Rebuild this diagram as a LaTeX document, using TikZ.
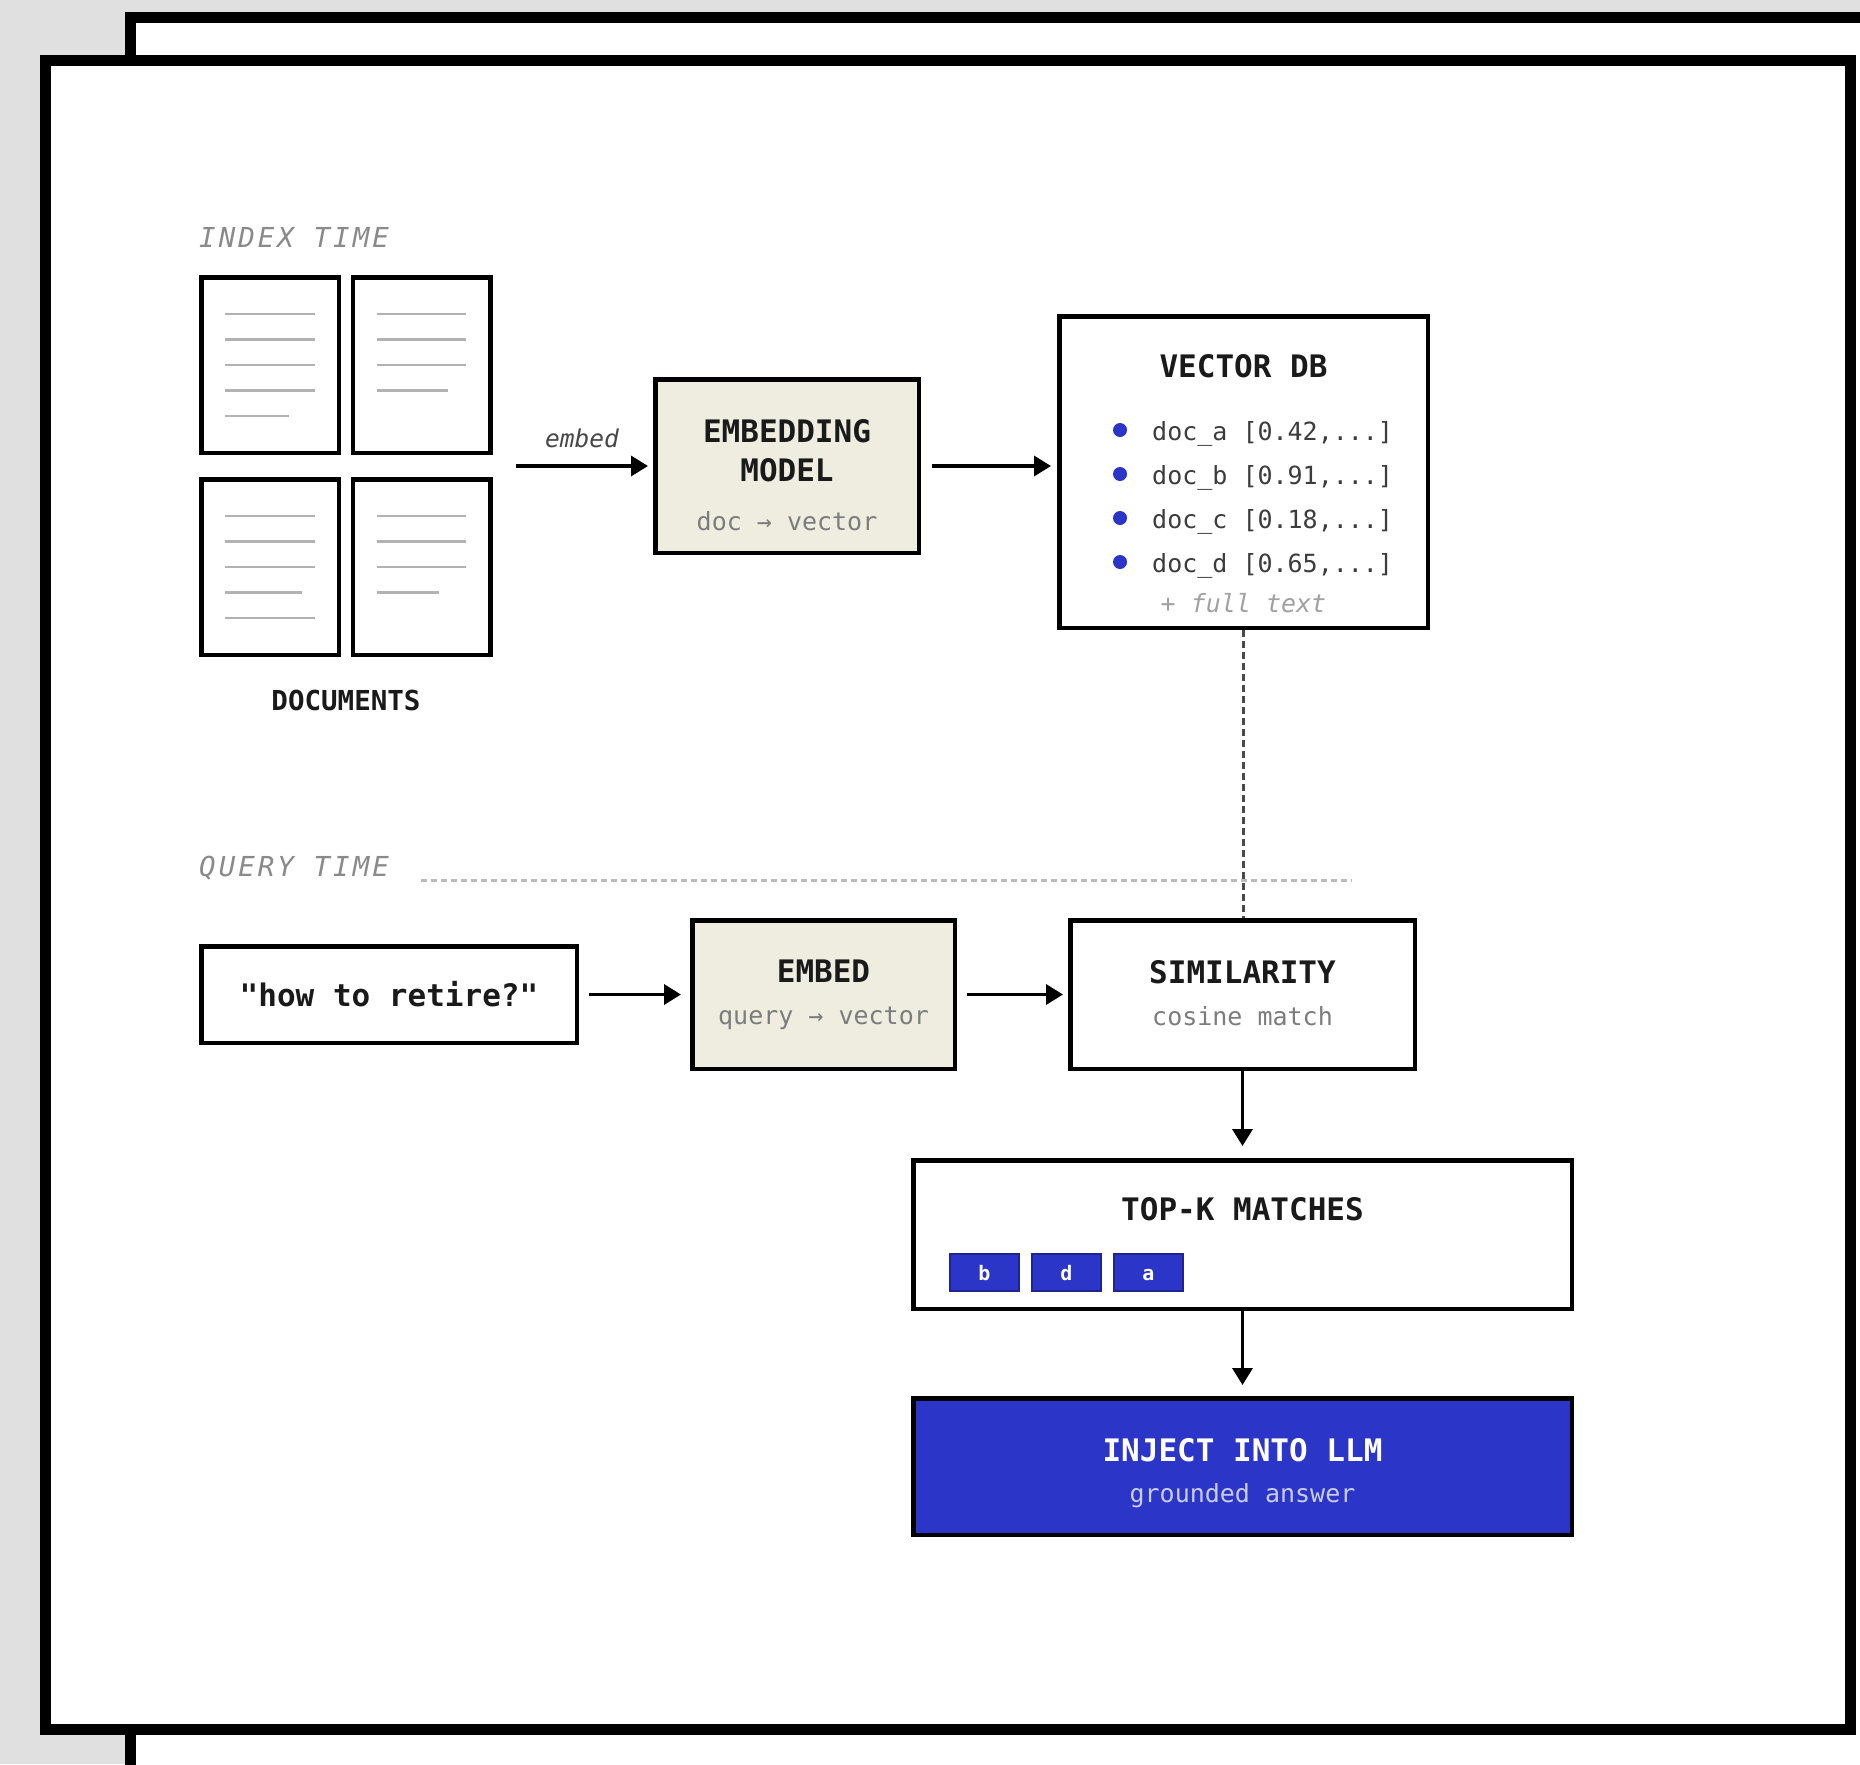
\documentclass[tikz,border=0pt]{standalone}
\usepackage{fontspec}
\setmainfont{DejaVu Sans Mono}
\newfontfamily\mono{DejaVu Sans Mono}
\usetikzlibrary{arrows.meta,calc}

\definecolor{bggray}{HTML}{E0E0E0}
\definecolor{beige}{HTML}{EFEDE0}
\definecolor{accent}{HTML}{2B35C8}
\definecolor{ink}{HTML}{1A1A1A}
\definecolor{subgray}{HTML}{7C7C7C}
\definecolor{taggray}{HTML}{8A8A8A}
\definecolor{rulegray}{HTML}{B2B2B2}
\definecolor{sepgray}{HTML}{BBBBBB}
\definecolor{linkgray}{HTML}{4A4A4A}
\definecolor{paleblue}{HTML}{C9CDF3}

\newcommand\fsz[1]{\fontsize{#1}{#1}\selectfont}

\tikzset{
  boxline/.style={draw=black, line width=4.5pt, inner sep=0pt},
  docbox/.style={boxline, fill=white, minimum width=137.5pt, minimum height=175.5pt},
  procbox/.style={boxline, fill=beige},
  plainbox/.style={boxline, fill=white},
  llmbox/.style={boxline, fill=accent},
  docrule/.style={draw=rulegray, line width=2.5pt},
  ttl/.style={font=\mono\bfseries\fsz{31}, text=ink, anchor=base, inner sep=0pt},
  subl/.style={font=\mono\fsz{25}, text=subgray, anchor=base, inner sep=0pt},
  phase/.style={font=\mono\itshape\fsz{27.5}\addfontfeature{LetterSpace=11}, text=taggray, anchor=base west, inner sep=0pt},
  rowtext/.style={font=\mono\fsz{25}, text=ink!85, anchor=base west, inner sep=0pt},
  dbdot/.style={circle, fill=accent, minimum size=14pt, inner sep=0pt},
  chip/.style={draw=accent!70!black, line width=1.5pt, fill=accent, minimum width=69pt, minimum height=37pt,
    inner sep=0pt, text=white, font=\mono\bfseries\fsz{20}, text height=15pt, text depth=0pt},
  flow/.style={draw=black, line width=3.5pt, -{Triangle[length=17pt,width=20pt]}},
  dbprobe/.style={draw=linkgray, line width=2.5pt, dash pattern=on 7pt off 4pt},
  septrack/.style={draw=sepgray, line width=3pt, dash pattern=on 6pt off 4pt},
}

\begin{document}
\begin{tikzpicture}[x=1pt,y=-1pt]
\useasboundingbox (0,0) rectangle (1860,1764);
\fill[bggray] (0,0) rectangle (1860,1764);

% stacked sheets behind the main panel
\begin{scope}
  \clip (0,0) rectangle (1860,1764);
  \draw[line width=11pt, fill=white] (130.5,17.5) rectangle (1920,1840);
\end{scope}
\draw[line width=11pt, fill=white] (45.5,60.5) rectangle (1850.5,1729.5);

% ---------------- index time ----------------
\node[phase] (itime) at (199,247) {INDEX TIME};

\node[docbox] (d1) at (270,365) {};
\node[docbox] (d2) at (421.5,365) {};
\node[docbox] (d3) at (270,567) {};
\node[docbox] (d4) at (421.5,567) {};
\foreach \d/\lens in {d1/{45,45,45,45,19}, d2/{44.5,44.5,44.5,26.5}, d3/{45,45,45,32,45}, d4/{44.5,44.5,44.5,17.5}} {
  \foreach \e [count=\i] in \lens {
    \draw[docrule] ($(\d)+(-45,{-51+(\i-1)*25.5})$) -- ($(\d)+(\e,{-51+(\i-1)*25.5})$);
  }
}
\node[font=\mono\bfseries\fsz{27.5}, text=ink, anchor=base, inner sep=0pt] (doclbl) at (346,710) {DOCUMENTS};

\node[procbox, minimum width=263.5pt, minimum height=173.5pt] (emb) at (787,466) {};
\node[ttl] (embt1) at (787,442) {EMBEDDING};
\node[ttl] (embt2) at (787,481) {MODEL};
\node[subl] (embs) at (787,530) {doc → vector};

\coordinate (docsout) at (516,466);
\draw[flow, shorten >=5pt] (docsout) -- (emb.west);
\node[font=\mono\itshape\fsz{24.5}, text=ink!80, anchor=base, inner sep=0pt] (embedlbl) at (582,447) {embed};

\node[plainbox, minimum width=368.5pt, minimum height=311.5pt] (vdb) at (1243.5,472) {};
\node[ttl] (vdbt) at (1243.5,377) {VECTOR DB};
\node[dbdot] (dota) at (1120,430) {};
\node[dbdot] (dotb) at (1120,474) {};
\node[dbdot] (dotc) at (1120,518) {};
\node[dbdot] (dotd) at (1120,562) {};
\node[rowtext] (rowa) at (1152,440) {doc\_a [0.42,...]};
\node[rowtext] (rowb) at (1152,484) {doc\_b [0.91,...]};
\node[rowtext] (rowc) at (1152,528) {doc\_c [0.18,...]};
\node[rowtext] (rowd) at (1152,572) {doc\_d [0.65,...]};
\node[font=\mono\itshape\fsz{25}, text=taggray!80, anchor=base, inner sep=0pt] (fulltext) at (1243.5,612) {+ full text};

\draw[flow, shorten <=11pt, shorten >=6pt] (emb.east) -- (emb.east -| vdb.west);

% ---------------- query time ----------------
\node[phase] (qtime) at (199,876) {QUERY TIME};
\coordinate (sepL) at (421,880);
\coordinate (sepR) at (1352,880);
\draw[septrack] (sepL) -- (sepR);

\node[plainbox, minimum width=375.5pt, minimum height=96.5pt] (query) at (389,994.5) {};
\node[font=\mono\bfseries\fsz{31}, text=ink, anchor=base, inner sep=0pt] (queryt) at (389,1006) {"how to retire?"};

\node[procbox, minimum width=262.5pt, minimum height=148.5pt] (qemb) at (823.5,994.5) {};
\node[ttl] (qembt) at (823.5,982) {EMBED};
\node[subl] (qembs) at (823.5,1024) {query → vector};

\node[plainbox, minimum width=344.5pt, minimum height=148.5pt] (sim) at (1242.5,994.5) {};
\node[ttl] (simt) at (1242.5,983) {SIMILARITY};
\node[subl] (sims) at (1242.5,1025) {cosine match};

\draw[dbprobe] (vdb.south) -- (vdb.south |- sim.north);

\draw[flow, shorten <=10pt, shorten >=9pt] (query.east) -- (qemb.west);
\draw[flow, shorten <=10pt, shorten >=5pt] (qemb.east) -- (sim.west);

\node[plainbox, minimum width=658.5pt, minimum height=148.5pt] (topk) at (1242.5,1234.5) {};
\node[ttl] (topkt) at (1242.5,1220) {TOP-K MATCHES};
\node[chip] (chipb) at (984.5,1272.5) {b};
\node[chip] (chipd) at (1066.5,1272.5) {d};
\node[chip] (chipa) at (1148.5,1272.5) {a};

\draw[flow, shorten >=12pt] (sim.south) -- (topk.north);

\node[llmbox, minimum width=658.5pt, minimum height=136.5pt] (llm) at (1242.5,1466.5) {};
\node[ttl, text=white] (llmt) at (1242.5,1461) {INJECT INTO LLM};
\node[subl, text=paleblue] (llms) at (1242.5,1502) {grounded answer};

\draw[flow, shorten >=11pt] (topk.south) -- (llm.north);
\end{tikzpicture}
\end{document}
